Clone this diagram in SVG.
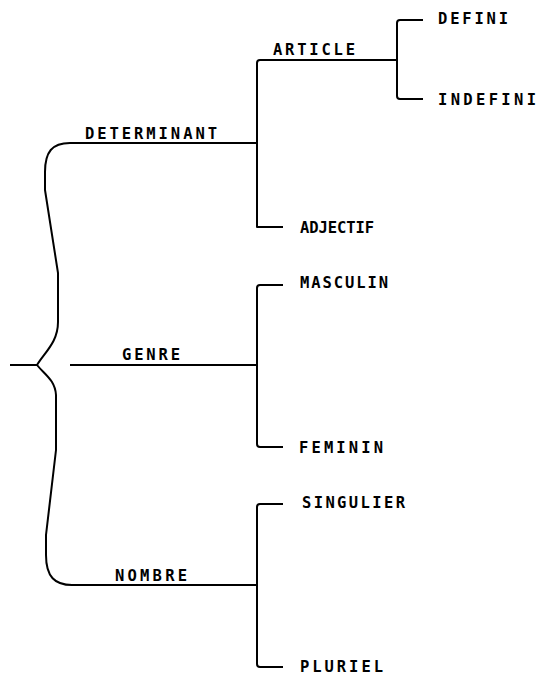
<svg xmlns="http://www.w3.org/2000/svg" width="537" height="675" viewBox="0 0 537 675">
<style>
.ln{fill:none;stroke:#000;stroke-width:2;stroke-linejoin:round;stroke-linecap:butt}
.lb{font-family:"DejaVu Sans Mono","Liberation Mono",monospace;font-size:15.5px;font-weight:bold;fill:#000}
</style>
<rect width="537" height="675" fill="#fff"/>
<g id="connectors">
<path class="ln" d="M10,365 L37,365"/>
<path class="ln" d="M257,143 L70,143 C52,143 45,152 45,172 L45,190 L58,273 L58,322 C58,342 45,352 37,365 C45,375 55,380 56,395 L56,450 L46,535 L46,555 C46,577 55,585 72,585 L257,585"/>
<path class="ln" d="M70,365 L257,365"/>
<path class="ln" d="M283,227 L257,227 L257,63 Q257,60 260,60 L397,60"/>
<path class="ln" d="M423,20 L400,20 Q397,20 397,23 L397,96 Q397,99 400,99 L423,99"/>
<path class="ln" d="M283,285 L260,285 Q257,285 257,288 L257,444 Q257,447 260,447 L283,447"/>
<path class="ln" d="M283,504 L260,504 Q257,504 257,507 L257,664 Q257,667 260,667 L283,667"/>
</g>
<g id="n-determinant"><text class="lb" x="85" y="139" textLength="132" lengthAdjust="spacing">DETERMINANT</text></g>
<g id="n-article"><text class="lb" x="273" y="55" textLength="82" lengthAdjust="spacing">ARTICLE</text></g>
<g id="n-defini"><text class="lb" x="438" y="24" textLength="70" lengthAdjust="spacing">DEFINI</text></g>
<g id="n-indefini"><text class="lb" x="438" y="105" textLength="98" lengthAdjust="spacing">INDEFINI</text></g>
<g id="n-adjectif"><text class="lb" x="300" y="233" textLength="74" lengthAdjust="spacing">ADJECTIF</text></g>
<g id="n-genre"><text class="lb" x="122" y="360" textLength="58" lengthAdjust="spacing">GENRE</text></g>
<g id="n-masculin"><text class="lb" x="300" y="288" textLength="88" lengthAdjust="spacing">MASCULIN</text></g>
<g id="n-feminin"><text class="lb" x="299" y="453" textLength="84" lengthAdjust="spacing">FEMININ</text></g>
<g id="n-nombre"><text class="lb" x="115" y="581" textLength="72" lengthAdjust="spacing">NOMBRE</text></g>
<g id="n-singulier"><text class="lb" x="302" y="508" textLength="103" lengthAdjust="spacing">SINGULIER</text></g>
<g id="n-pluriel"><text class="lb" x="300" y="672" textLength="83" lengthAdjust="spacing">PLURIEL</text></g>
</svg>
